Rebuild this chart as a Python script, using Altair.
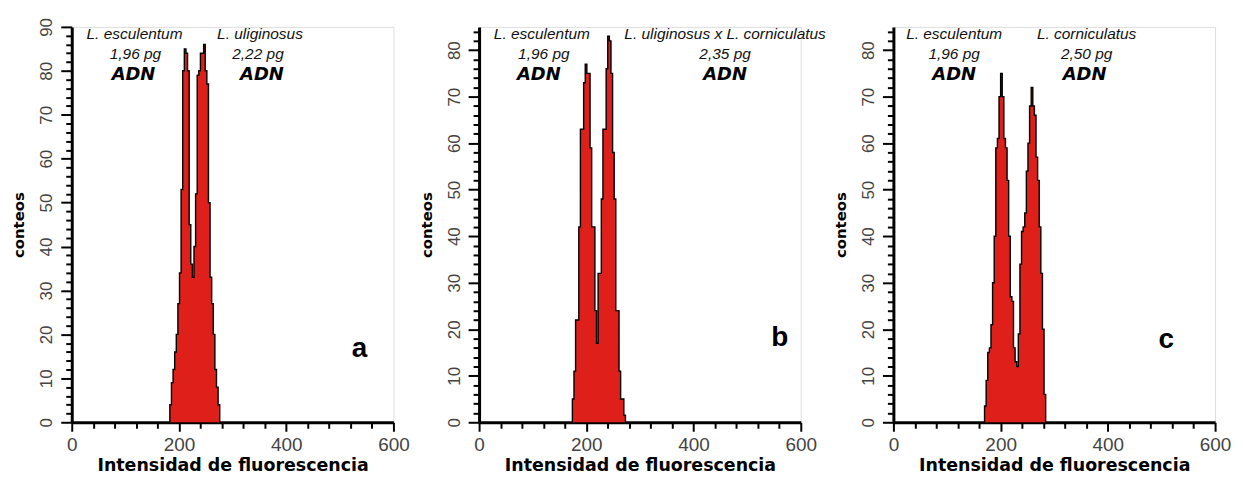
import altair as alt
import pandas as pd

# ---------------- data ----------------
bin_width = 3

a_bins = [183, 186, 189, 192, 195, 198, 201, 204, 207, 210, 213, 216, 219, 222, 225, 228,
          231, 234, 237, 240, 243, 246, 249, 252, 255, 258, 261, 264, 267, 270, 273]
a_counts = [4, 9, 12, 16, 20, 27, 34, 53, 80, 85, 84, 80, 45, 36, 33, 40,
            52, 79, 80, 84, 84, 86, 80, 77, 50, 33, 27, 20, 12, 8, 4]

b_bins = [174, 177, 180, 183, 186, 189, 192, 195, 198, 201, 204, 207, 210, 213, 216, 219, 222,
          225, 228, 231, 234, 237, 240, 243, 246, 249, 252, 255, 258, 261, 264, 267, 270]
b_counts = [5, 11, 22, 22, 42, 63, 63, 73, 77, 75, 75, 59, 42, 42, 24, 17, 32,
            32, 48, 63, 63, 76, 83, 82, 75, 58, 48, 24, 24, 11, 5, 5, 1.5]

c_bins = [170, 173, 176, 179, 182, 185, 188, 191, 194, 197, 200, 203, 206, 209, 212, 215, 218,
          221, 224, 227, 230, 233, 236, 239, 242, 245, 248, 251, 254, 257, 260, 263, 266, 269,
          272, 275, 278, 281]
c_counts = [3.5, 9, 15, 16, 21, 30, 40, 59, 61, 70, 75, 70, 61, 59, 52, 40, 27,
            26, 16, 13, 12, 19, 34, 41, 42, 45, 54, 60, 68, 72, 68, 66, 57, 52,
            42, 32, 20, 6]

x_ticks = [0, 40, 80, 120, 160, 200, 240, 280, 320, 360, 400, 440, 480, 520, 560, 600]

a_species = ["L. esculentum", "L. uliginosus"]
a_mass = ["1,96 pg", "2,22 pg"]
b_species = ["L. esculentum", "L. uliginosus x L. corniculatus"]
b_mass = ["1,96 pg", "2,35 pg"]
c_species = ["L. esculentum", "L. corniculatus"]
c_mass = ["1,96 pg", "2,50 pg"]
unit_label = "ADN"
panel_letters = ["a", "b", "c"]

x_title = "Intensidad de fluorescencia"
y_title = "conteos"

# ---------------- styling ----------------
RED = "#df1f19"
W, H = 323, 397


def area_df(bins, counts):
    xs = list(bins) + [bins[-1] + bin_width]
    ys = list(counts) + [0]
    return pd.DataFrame({"x": xs, "y": ys})


def line_df(bins, counts):
    xs = [bins[0]] + list(bins) + [bins[-1] + bin_width]
    ys = [0] + list(counts) + [0]
    return pd.DataFrame({"x": xs, "y": ys, "o": list(range(len(xs)))})


def text_layer(txt, px, py, font, size, style="normal", weight="normal", color="#111111"):
    return alt.Chart(pd.DataFrame({"t": [txt]})).mark_text(
        font=font, fontSize=size, fontStyle=style, fontWeight=weight, color=color,
        align="center", baseline="middle"
    ).encode(text="t:N", x=alt.value(px), y=alt.value(py))


def panel(bins, counts, ymax, species, mass, letter, pos):
    xaxis = alt.Axis(
        values=x_ticks, tickCount=len(x_ticks),
        labelExpr="datum.value % 200 === 0 ? datum.label : ''",
        labelFlush=False, labelOverlap=False,
        labelFont="Liberation Sans", labelFontSize=19, labelColor="#444",
        labelPadding=4,
        tickSize={"condition": {"test": "datum.value % 200 === 0", "value": 9}, "value": 6},
        tickWidth=2, tickColor="black",
        domainColor="black", domainWidth=3,
        grid=False,
        title=x_title, titleFont="DejaVu Sans", titleFontWeight="bold",
        titleFontSize=17.5, titleColor="black", titlePadding=2,
    )
    yvals = list(range(0, ymax + 1, 2))
    yaxis = alt.Axis(
        values=yvals, tickCount=len(yvals),
        labelExpr="datum.value % 10 === 0 ? datum.label : ''",
        labelOverlap=False, labelFlush=False,
        labelAngle=270,
        labelFont="Liberation Sans", labelFontSize=17, labelColor="#444",
        labelPadding=5,
        tickSize={"condition": {"test": "datum.value % 10 === 0", "value": 11}, "value": 6},
        tickWidth=2, tickColor="black",
        domainColor="black", domainWidth=3,
        grid=False,
        title=y_title, titleFont="DejaVu Sans", titleFontWeight="bold",
        titleFontSize=15, titleColor="black", titlePadding=11,
    )
    xs = alt.X("x:Q", scale=alt.Scale(domain=[0, 600], nice=False, zero=False), axis=xaxis)
    ys = alt.Y("y:Q", scale=alt.Scale(domain=[0, ymax], nice=False), axis=yaxis)

    area = alt.Chart(area_df(bins, counts)).mark_area(
        interpolate="step-after", color=RED, opacity=1
    ).encode(x=xs, y=ys)
    outline = alt.Chart(line_df(bins, counts)).mark_line(
        interpolate="step-after", color="black", strokeWidth=1.4
    ).encode(x="x:Q", y="y:Q", order="o:Q")

    (s1x, s2x, a1x, a2x, m1x, m2x, lx, ly) = pos
    layers = [
        area, outline,
        text_layer(species[0], s1x, 7, "Liberation Sans", 15.5, style="italic"),
        text_layer(species[1], s2x, 7, "Liberation Sans", 15.5, style="italic"),
        text_layer(mass[0], m1x, 27, "Liberation Sans", 15.5, style="italic"),
        text_layer(mass[1], m2x, 27, "Liberation Sans", 15.5, style="italic"),
        text_layer(unit_label, a1x, 48, "DejaVu Sans", 18, style="italic", weight="bold", color="black"),
        text_layer(unit_label, a2x, 48, "DejaVu Sans", 18, style="italic", weight="bold", color="black"),
        text_layer(letter, lx, ly, "Liberation Sans", 28, weight="bold", color="black"),
    ]
    return alt.layer(*layers).properties(width=W, height=H)


pa = panel(a_bins, a_counts, 90, a_species, a_mass, panel_letters[0],
           (63, 189, 62, 191, 64, 187, 289, 323))
pb = panel(b_bins, b_counts, 85, b_species, b_mass, panel_letters[1],
           (63, 247, 60, 247, 65, 247, 302, 312))
pc = panel(c_bins, c_counts, 85, c_species, c_mass, panel_letters[2],
           (61, 194, 61, 192, 61, 194, 274, 314))

left_pair = alt.hconcat(pa, pb, spacing=8)
chart = alt.hconcat(left_pair, pc, spacing=6).properties(
    padding={"top": 8, "left": 3, "right": 5, "bottom": 5}
).configure_view(stroke=None).configure(background="white")

chart.save("out.html", embed_options={"renderer": "svg", "actions": False})
